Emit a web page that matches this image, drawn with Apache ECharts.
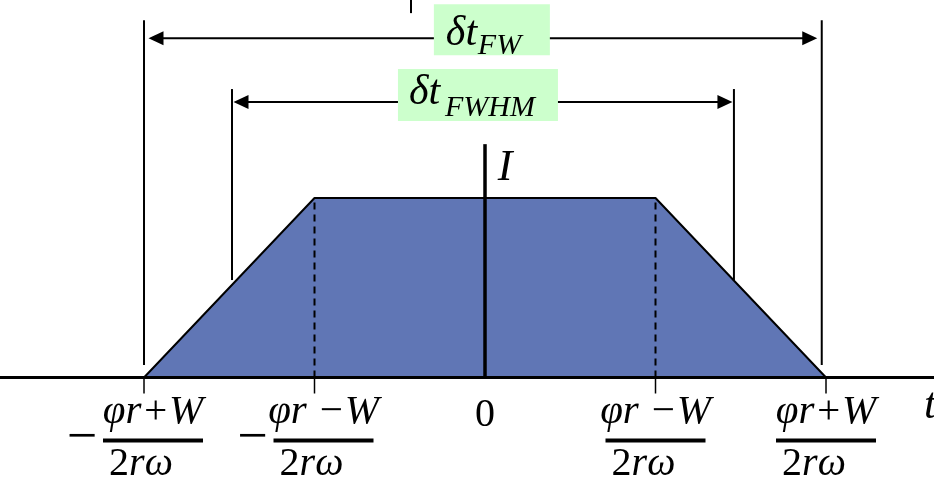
<!DOCTYPE html>
<html>
<head>
<meta charset="utf-8">
<script src="https://cdn.jsdelivr.net/npm/echarts/dist/echarts.min.js"></script>
<style>
html,body{margin:0;padding:0;background:#fff;}
#chart{width:934px;height:480px;}
</style>
</head>
<body>
<div id="chart"></div>
<script>
// ---------- data ----------
const pulseT = [-2, -1, 1, 2];          // trapezoid corners (time)
const pulseI = [0, 1, 1, 0];            // trapezoid intensity
const tickValues = [-2, -1, 0, 1, 2];
const tickSigns = ['−', '−', '', '', ''];
const tickNumerators = ['φr+W', 'φr −W', '0', 'φr −W', 'φr+W'];
const tickDenominators = ['2rω', '2rω', '', '2rω', '2rω'];
const widthNames = ['FW', 'FWHM'];
const widthStarts = [-2.0, -1.484];
const widthEnds = [1.975, 1.46];
const widthBaseLevels = [0.07, 0.543];
const widthTopLevels = [1.99, 1.607];
const widthArrowLevels = [1.89, 1.535];
const intensityAxisTop = 1.30;
const axisNames = ['t', 'I'];
const strayMark = [-0.434, 2.103, -0.434, 2.03];

// ---------- layout / style (pixels) ----------
const FONT = 'Liberation Serif';
const FILL = '#6076B5';
const X_MIN = -2.8446, X_MAX = 2.6334, Y_MIN = -0.571, Y_MAX = 2.1031;
const WL = [
  {box: [-49, -34, 116, 51], main: [-37, -4.5], sub: [-5, 8], gap: 4.5},
  {box: [-85, -33, 160, 52], main: [-74, -9.5], sub: [-38, 6.5], gap: 1.5}
];

function txt(s, x, y, size, style, align, family) {
  return {type: 'text', style: {text: s, x: x, y: y, fill: '#000',
    font: (style === 'italic' ? 'italic ' : '') + size + 'px "' + (family || FONT) + '"',
    align: align || 'center', verticalAlign: 'middle'}};
}

function segSeries(segs, width, dash, z) {
  return {
    type: 'custom', silent: true, z: z, data: segs,
    renderItem: function (params, api) {
      const a = api.coord([api.value(0), api.value(1)]);
      const b = api.coord([api.value(2), api.value(3)]);
      return {type: 'line', shape: {x1: a[0], y1: a[1], x2: b[0], y2: b[1]},
        style: {stroke: '#000', lineWidth: width, lineDash: dash || null}};
    }
  };
}

const markerSegs = [];
widthNames.forEach(function (n, i) {
  markerSegs.push([widthStarts[i], widthBaseLevels[i], widthStarts[i], widthTopLevels[i]]);
  markerSegs.push([widthEnds[i], widthBaseLevels[i], widthEnds[i], widthTopLevels[i]]);
});
markerSegs.push(strayMark);
const dashSegs = [];
pulseT.forEach(function (t, i) { if (pulseI[i] > 0) dashSegs.push([t, 0, t, pulseI[i]]); });

const chart = echarts.init(document.getElementById('chart'), null, {renderer: 'canvas'});
chart.setOption({
  animation: false,
  backgroundColor: '#fff',
  grid: {left: 0, right: 0, top: 0, bottom: 0},
  xAxis: {type: 'value', min: X_MIN, max: X_MAX, show: false},
  yAxis: {type: 'value', min: Y_MIN, max: Y_MAX, show: false},
  series: [
    {
      type: 'line', z: 2, symbol: 'none', silent: true,
      data: pulseT.map(function (t, i) { return [t, pulseI[i]]; }),
      lineStyle: {color: '#000', width: 2},
      areaStyle: {color: FILL, opacity: 1}
    },
    segSeries(dashSegs, 2, [7, 5], 3),
    segSeries(markerSegs, 2, null, 3),
    segSeries([[0, 0, 0, intensityAxisTop]], 3.5, null, 4),
    // baseline (time axis)
    {
      type: 'custom', silent: true, z: 5, data: [[0, 0]],
      renderItem: function (params, api) {
        const cs = params.coordSys;
        const p = api.coord([0, 0]);
        return {type: 'line', shape: {x1: cs.x, y1: p[1], x2: cs.x + cs.width, y2: p[1]},
          style: {stroke: '#000', lineWidth: 3}};
      }
    },
    // tick marks and tick labels
    {
      type: 'custom', silent: true, z: 6,
      data: tickValues.map(function (t, i) { return [t, i]; }),
      renderItem: function (params, api) {
        const i = api.value(1);
        const p = api.coord([api.value(0), 0]);
        const ch = [];
        if (!tickDenominators[i]) {
          ch.push(txt(tickNumerators[i], p[0], p[1] + 38, 40, 'normal'));
        } else {
          ch.push({type: 'line', shape: {x1: p[0], y1: p[1], x2: p[0], y2: p[1] + 16},
            style: {stroke: '#000', lineWidth: 1.5}});
          const cx = p[0] + (tickSigns[i] ? 9 : 0);
          if (tickSigns[i]) ch.push(txt(tickSigns[i], p[0] - 62, p[1] + 61.5, 54, 'normal'));
          ch.push(txt(tickNumerators[i], cx, p[1] + 35, 41, 'italic'));
          ch.push({type: 'rect', shape: {x: cx - 50, y: p[1] + 61, width: 100, height: 4},
            style: {fill: '#000'}});
          const d = tickDenominators[i];
          ch.push({type: 'text', style: {
            text: '{u|' + d.charAt(0) + '}{i|' + d.slice(1) + '}',
            x: cx - 12, y: p[1] + 87, align: 'center', verticalAlign: 'middle',
            rich: {
              u: {fontFamily: FONT, fontSize: 40, fill: '#000', color: '#000'},
              i: {fontFamily: FONT, fontSize: 40, fontStyle: 'italic', fill: '#000', color: '#000'}
            }
          }});
        }
        return {type: 'group', children: ch};
      }
    },
    // width arrows with labels
    {
      type: 'custom', silent: true, z: 7,
      data: widthNames.map(function (n, i) { return [widthStarts[i], widthEnds[i], widthArrowLevels[i], i]; }),
      renderItem: function (params, api) {
        const i = api.value(3);
        const L = WL[i];
        const a = api.coord([api.value(0), api.value(2)]);
        const b = api.coord([api.value(1), api.value(2)]);
        const y = a[1];
        const tl = a[0] + L.gap, tr = b[0] - L.gap;
        const hl = 15, hw = 7;
        const mid = (a[0] + b[0]) / 2;
        return {type: 'group', children: [
          {type: 'line', shape: {x1: tl + hl - 1, y1: y, x2: tr - hl + 1, y2: y}, style: {stroke: '#000', lineWidth: 2}},
          {type: 'polygon', shape: {points: [[tl, y], [tl + hl, y - hw], [tl + hl, y + hw]]}, style: {fill: '#000'}},
          {type: 'polygon', shape: {points: [[tr, y], [tr - hl, y - hw], [tr - hl, y + hw]]}, style: {fill: '#000'}},
          {type: 'rect', shape: {x: mid + L.box[0], y: y + L.box[1], width: L.box[2], height: L.box[3]}, style: {fill: '#CCFFCC'}},
          txt('δt', mid + L.main[0], y + L.main[1], 42, 'italic', 'left'),
          txt(widthNames[i], mid + L.sub[0], y + L.sub[1], 30, 'italic', 'left')
        ]};
      }
    },
    // axis names
    {
      type: 'custom', silent: true, z: 7, data: [[0, 0]],
      renderItem: function (params, api) {
        const cs = params.coordSys;
        const o = api.coord([0, 0]);
        const top = api.coord([0, intensityAxisTop]);
        return {type: 'group', children: [
          txt(axisNames[0], cs.x + cs.width - 10, o[1] + 29, 44, 'italic', 'left'),
          txt(axisNames[1], top[0] + 20, top[1] + 24, 44, 'italic', 'center')
        ]};
      }
    }
  ]
});
</script>
</body>
</html>
